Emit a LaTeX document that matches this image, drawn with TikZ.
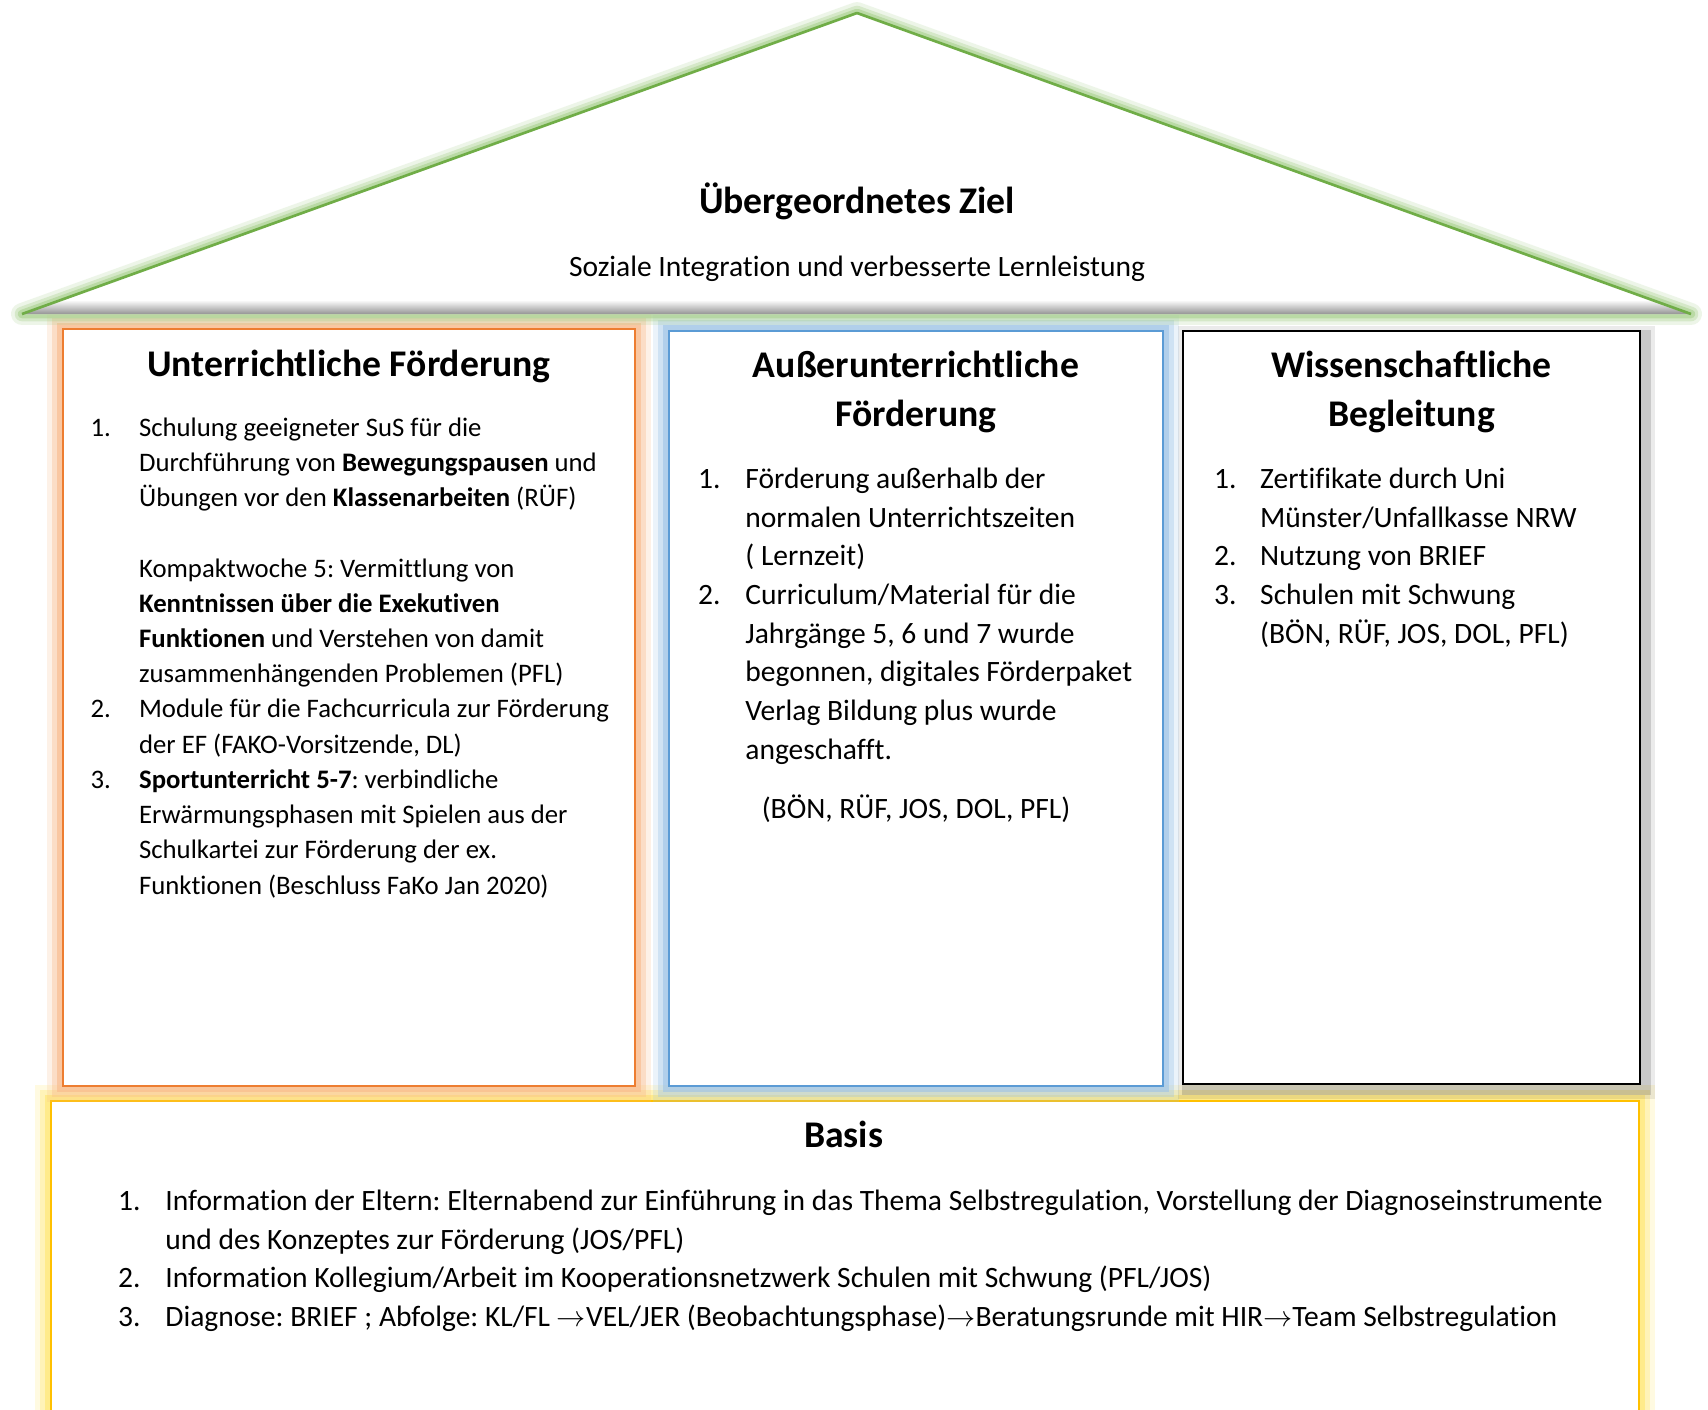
\documentclass[tikz,border=0pt]{standalone}
\usepackage{fontspec}
\setmainfont{Carlito}[Ligatures=NoCommon]
\frenchspacing
\usetikzlibrary{fit}

\definecolor{roofgreen}{HTML}{70AD47}
\definecolor{roofglow}{HTML}{A9D18E}
\definecolor{boxorange}{HTML}{ED7D31}
\definecolor{orangeglow}{HTML}{F8B98A}
\definecolor{boxblue}{HTML}{5B9BD5}
\definecolor{blueglow}{HTML}{9DC3E6}
\definecolor{boxgold}{HTML}{FFC000}
\definecolor{goldglow}{HTML}{FFE66D}

\tikzset{
  box/.style={draw=#1, line width=1.2pt, fill=white, inner sep=0pt},
  glowbox/.style={
    preaction={draw=#1, line width=13pt, draw opacity=0.2},
    preaction={draw=#1, line width=9pt, draw opacity=0.35},
    preaction={draw=#1, line width=5pt, draw opacity=0.6}},
  shadowbox/.style={
    preaction={draw=black, line width=8pt, draw opacity=0.08,
      transform canvas={xshift=2pt, yshift=-2pt}},
    preaction={draw=black, line width=5pt, draw opacity=0.14,
      transform canvas={xshift=2pt, yshift=-2pt}}},
  head/.style={font=\fontsize{15.5}{20.2}\bfseries, inner sep=0pt, anchor=base},
  bigtxt/.style={font=\fontsize{12.15}{15.9}\selectfont, inner sep=0pt, anchor=base west},
  smalltxt/.style={font=\fontsize{11}{14.5}\selectfont, inner sep=0pt, anchor=base west},
}

\begin{document}
\begin{tikzpicture}[x=0.4115pt, y=-0.4115pt]
  \clip (0,0) rectangle (1708,1409);
  \fill[white] (0,0) rectangle (1708,1409);

  % Basis
  \node[box=boxgold, glowbox=goldglow, fit={(51,1101) (1639,1440)}] (basis) {};
  \node[head] (basishead) at ([shift={(794,48)}]basis.north west) {Basis};
  \node[bigtxt] (basislist) at ([shift={(68,111)}]basis.north west) {%
    \begin{tabular}[t]{@{}p{19.5pt}@{}l@{}}
      1. & Information der Eltern: Elternabend zur Einführung in das Thema Selbstregulation, Vorstellung der Diagnoseinstrumente\\
         & und des Konzeptes zur Förderung (JOS/PFL)\\
      2. & Information Kollegium/Arbeit im Kooperationsnetzwerk Schulen mit Schwung (PFL/JOS)\\
      3. & Diagnose: BRIEF ; Abfolge: KL/FL $\rightarrow$VEL/JER (Beobachtungsphase)$\rightarrow$Beratungsrunde mit HIR$\rightarrow$Team Selbstregulation
    \end{tabular}};

  % Saeulen
  \node[box=boxorange, glowbox=orangeglow, fit={(63,329) (635,1086)}] (lbox) {};
  \node[box=boxblue, glowbox=blueglow, fit={(669,331) (1163,1086)}] (mbox) {};
  \node[box=black, shadowbox, fit={(1183,331) (1640,1084)}] (rbox) {};

  \node[head] (lhead) at ([shift={(0,48.6)}]lbox.north) {Unterrichtliche Förderung};
  \node[smalltxt] (llist) at ([shift={(28.5,108.5)}]lbox.north west) {%
    \begin{tabular}[t]{@{}p{20pt}@{}l@{}}
      1. & Schulung geeigneter SuS für die\\
         & Durchführung von \textbf{Bewegungspausen} und\\
         & Übungen vor den \textbf{Klassenarbeiten} (RÜF)\\
         & \\
         & Kompaktwoche 5: Vermittlung von\\
         & \textbf{Kenntnissen über die Exekutiven}\\
         & \textbf{Funktionen} und Verstehen von damit\\
         & zusammenhängenden Problemen (PFL)\\
      2. & Module für die Fachcurricula zur Förderung\\
         & der EF (FAKO-Vorsitzende, DL)\\
      3. & \textbf{Sportunterricht 5-7}: verbindliche\\
         & Erwärmungsphasen mit Spielen aus der\\
         & Schulkartei zur Förderung der ex.\\
         & Funktionen (Beschluss FaKo Jan 2020)
    \end{tabular}};

  \node[head] (mhead) at ([shift={(0,47.6)}]mbox.north) {%
    \begin{tabular}[t]{@{}c@{}}Außerunterrichtliche\\ Förderung\end{tabular}};
  \node[bigtxt] (mlist) at ([shift={(30,159)}]mbox.north west) {%
    \begin{tabular}[t]{@{}p{19.5pt}@{}l@{}}
      1. & Förderung außerhalb der\\
         & normalen Unterrichtszeiten\\
         & ( Lernzeit)\\
      2. & Curriculum/Material für die\\
         & Jahrgänge 5, 6 und 7 wurde\\
         & begonnen, digitales Förderpaket\\
         & Verlag Bildung plus wurde\\
         & angeschafft.
    \end{tabular}};
  \node[bigtxt, anchor=base] (mnames) at ([shift={(0,489)}]mbox.north) {(BÖN, RÜF, JOS, DOL, PFL)};

  \node[head] (rhead) at ([shift={(0,47.6)}]rbox.north) {%
    \begin{tabular}[t]{@{}c@{}}Wissenschaftliche\\ Begleitung\end{tabular}};
  \node[bigtxt] (rlist) at ([shift={(32,159)}]rbox.north west) {%
    \begin{tabular}[t]{@{}p{19pt}@{}l@{}}
      1. & Zertifikate durch Uni\\
         & Münster/Unfallkasse NRW\\
      2. & Nutzung von BRIEF\\
      3. & Schulen mit Schwung\\
         & (BÖN, RÜF, JOS, DOL, PFL)
    \end{tabular}};

  % Dach
  \coordinate (apex) at (857,13);
  \coordinate (eaveL) at (22,314);
  \coordinate (eaveR) at (1691,314);
  \foreach \w/\o in {9/0.2, 6/0.35, 3.5/0.6}
    \draw[roofglow, line width=\w pt, draw opacity=\o, line join=round]
      (eaveL) -- (apex) -- (eaveR) -- cycle;
  \fill[white] (eaveL) -- (apex) -- (eaveR) -- cycle;
  \begin{scope}
    \clip (eaveL) -- (apex) -- (eaveR) -- cycle;
    \shade[top color=white, bottom color=black!45] (0,300) rectangle (1708,315);
  \end{scope}
  \draw[roofgreen, line width=1.1pt, line join=round] (eaveL) -- (apex) -- (eaveR);
  \node[head] (goal) at (857,213) {Übergeordnetes Ziel};
  \node[bigtxt, anchor=base] (goaltext) at (857,276) {Soziale Integration und verbesserte Lernleistung};
\end{tikzpicture}
\end{document}
